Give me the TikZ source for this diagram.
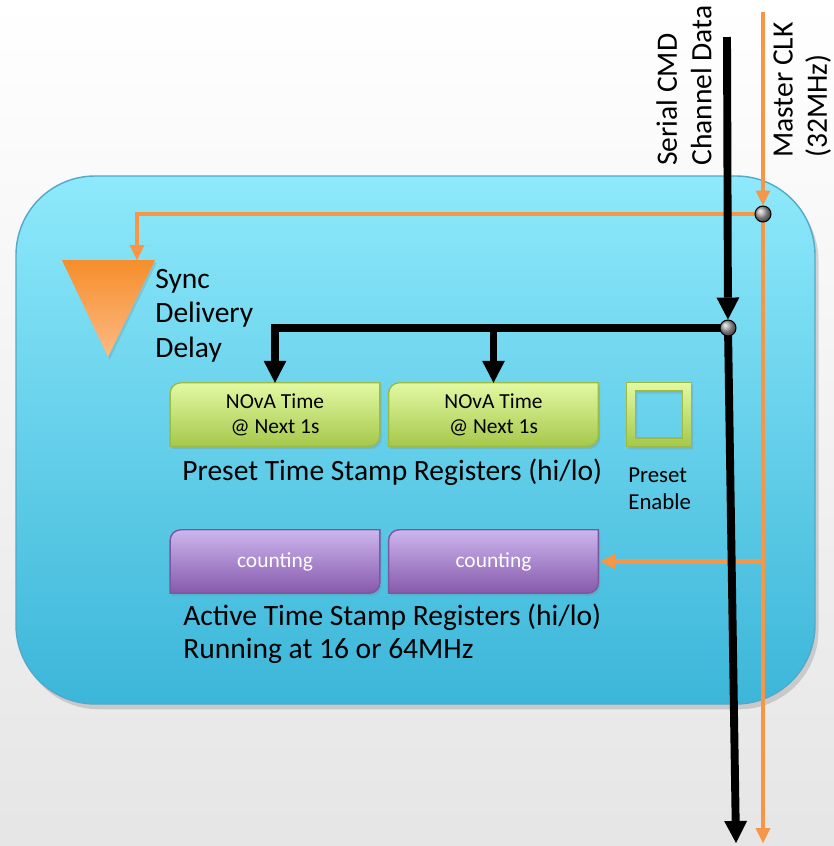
\documentclass[tikz,border=0pt]{standalone}
\usepackage{fontspec}
\setmainfont{Carlito}
\usetikzlibrary{arrows.meta,shadows}

\definecolor{clkorange}{HTML}{F79646}
\definecolor{boxtop}{HTML}{8EE9FB}
\definecolor{boxbot}{HTML}{3CB6D9}
\definecolor{boxedge}{HTML}{52A9C9}
\definecolor{presettop}{HTML}{E2F9A3}
\definecolor{presetbot}{HTML}{A6C84B}
\definecolor{presetedge}{HTML}{9BBB45}
\definecolor{counttop}{HTML}{CDB6EE}
\definecolor{countbot}{HTML}{8659AC}
\definecolor{countedge}{HTML}{7A589E}
\definecolor{delaytop}{HTML}{F68E2C}
\definecolor{delaybot}{HTML}{FDBA84}

\pgfdeclarelayer{bg}
\pgfdeclarelayer{boxes}
\pgfdeclarelayer{clk}
\pgfdeclarelayer{cmd}
\pgfsetlayers{bg,boxes,clk,cmd,main}

\newcommand\bigtext{\fontsize{16.8pt}{19.6pt}\selectfont}
\newcommand\activetext{\fontsize{16.8pt}{18.6pt}\selectfont}
\newcommand\regtext{\fontsize{12.2pt}{14.4pt}\selectfont}
\newcommand\entext{\fontsize{13pt}{15.8pt}\selectfont}

% register outline: only top-left and bottom-right corners are rounded
\newcommand\regoutline[1]{(#1.south west) -- ([yshift=-6pt]#1.north west)
  arc[start angle=180,end angle=90,radius=6pt] -- (#1.north east)
  -- ([yshift=6pt]#1.south east) arc[start angle=0,end angle=-90,radius=6pt] -- cycle}

\tikzset{
  softshadow/.style={drop shadow={opacity=.25,shadow xshift=1pt,shadow yshift=-1.5pt}},
  bigbox/.style={rounded corners=45pt,top color=boxtop,bottom color=boxbot,
    draw=boxedge,line width=0.8pt,drop shadow={opacity=.3,shadow xshift=2pt,shadow yshift=-3pt}},
  regbase/.style={minimum width=119pt,minimum height=35.7pt,inner sep=0pt,align=center,font=\regtext},
  presetfill/.style={top color=presettop,bottom color=presetbot,draw=presetedge,line width=0.8pt,softshadow},
  countfill/.style={top color=counttop,bottom color=countbot,draw=countedge,line width=0.8pt,softshadow},
  enframe/.style={top color=presettop,bottom color=presetbot,draw=presetedge,line width=0.8pt,even odd rule,
    drop shadow={opacity=.25,shadow xshift=1pt,shadow yshift=-1.5pt,even odd rule}},
  delayfill/.style={top color=delaytop,bottom color=delaybot,softshadow},
  label/.style={inner sep=0pt,align=left,font=\bigtext},
  cmdline/.style={line width=4.5pt,black},
  clkline/.style={line width=2.8pt,clkorange},
  cmdtip/.style={-{Triangle[length=12.5pt,width=13pt,line width=0pt]}},
  clktip/.style={-{Triangle[length=8.5pt,width=8.5pt,line width=0pt]}},
  jdot/.style={circle,draw=black,line width=0.6pt,ball color=black!35,minimum size=9.1pt,inner sep=0pt}
}

\begin{document}
\begin{tikzpicture}[x=0.02cm,y=-0.02cm]
  \begin{pgfonlayer}{bg}
    \shade[top color=white,bottom color=black!10] (0,0) rectangle (834,846);
    \path[bigbox] (16,176) rectangle (815,704);
  \end{pgfonlayer}
  \useasboundingbox (0,0) rectangle (834,846);

  % signal labels
  \node[label,rotate=90,anchor=north west] (cmdlabel) at (656,166) {Serial CMD\\Channel Data};
  \node[label,rotate=90,anchor=north west] (clklabel) at (773,158) {Master CLK\\(32MHz)};

  \coordinate (cmdtop) at (727,37);
  \coordinate (cmdend) at (736,843);
  \coordinate (clktop) at (763,12);
  \coordinate (clkend) at (763,843);
  \node[jdot] (clkdot) at (763,214) {};
  \node[jdot] (cmddot) at (728,328) {};

  % sync delivery delay
  \begin{pgfonlayer}{boxes}
    \path[delayfill] (62,260) -- (155,260) -- (108,357) -- cycle;
  \end{pgfonlayer}
  \coordinate (delayin) at (137,260);
  \node[label,anchor=north west] (delay) at (155,269) {Sync\\Delivery\\Delay};

  % registers
  \node[regbase] (p1) at (275,414.5) {NOvA Time\\@ Next 1s};
  \node[regbase] (p2) at (493.5,414.5) {NOvA Time\\@ Next 1s};
  \node[regbase,text=white] (c1) at (275,561.5) {counting};
  \node[regbase,text=white] (c2) at (493.5,561.5) {counting};
  \node[inner sep=0pt,minimum size=36.3pt] (en) at (659,414.5) {};
  \begin{pgfonlayer}{boxes}
    \path[presetfill] \regoutline{p1};
    \path[presetfill] \regoutline{p2};
    \path[countfill] \regoutline{c1};
    \path[countfill] \regoutline{c2};
    \path[enframe] (en.north west) rectangle (en.south east)
      ([xshift=5pt,yshift=-5pt]en.north west) rectangle ([xshift=-5pt,yshift=5pt]en.south east);
  \end{pgfonlayer}

  \node[label,anchor=base west] (presetname) at (182,480) {Preset Time Stamp Registers (hi/lo)};
  \node[label,font=\entext,anchor=north west] (enname) at (628,467) {Preset\\Enable};
  \node[label,font=\activetext,anchor=north west] (activename) at (183,604) {Active Time Stamp Registers (hi/lo)\\Running at 16 or 64MHz};

  % master clock
  \begin{pgfonlayer}{clk}
    \draw[clkline,clktip] (clktop) -- (clkdot);
    \draw[clkline,shorten <=-2pt,clktip] (clkdot) -- (clkend);
    \draw[clkline,shorten <=-2pt,clktip] (clkdot) -| (delayin);
    \draw[clkline,clktip] (clkdot |- c2.east) -- ([xshift=1pt]c2.east);
  \end{pgfonlayer}

  % serial command data
  \begin{pgfonlayer}{cmd}
    \draw[cmdline,cmdtip] (cmdtop) -- (cmddot);
    \draw[cmdline,shorten <=-2pt,cmdtip] (cmddot) -- (cmdend);
    \draw[cmdline,shorten <=-2pt,cmdtip] (cmddot) -| (p1.north);
    \draw[cmdline,cmdtip] (p2.north |- cmddot) -- (p2.north);
  \end{pgfonlayer}
\end{tikzpicture}
\end{document}
